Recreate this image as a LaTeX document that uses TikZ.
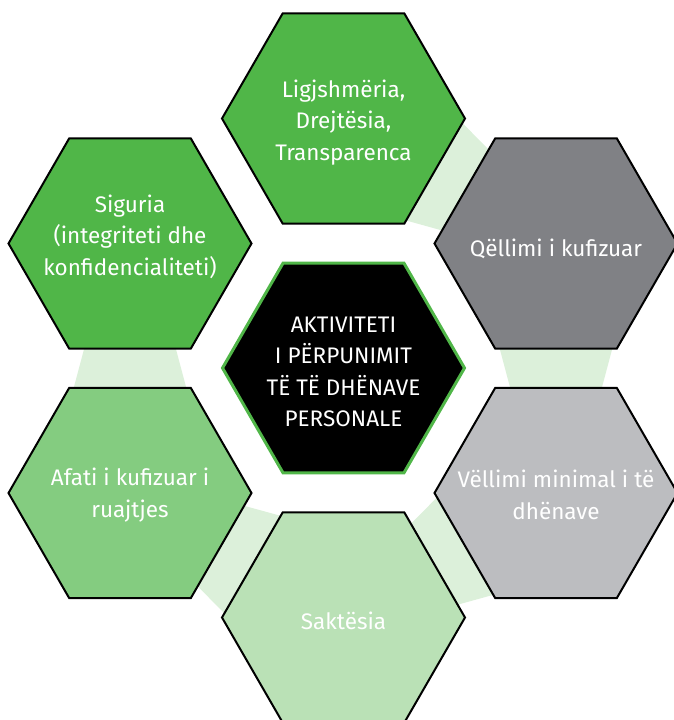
\documentclass[tikz,border=0pt]{standalone}
\usepackage{fontspec}
\setmainfont{Fira Sans}
\usetikzlibrary{shapes.geometric,calc}
\definecolor{hgreen}{RGB}{80,182,72}
\definecolor{hdgray}{RGB}{128,129,133}
\definecolor{hlgray}{RGB}{188,189,192}
\definecolor{hmgreen}{RGB}{132,204,128}
\definecolor{hlgreen}{RGB}{186,225,182}
\definecolor{bandcol}{RGB}{220,240,218}
\newcommand{\hexband}[2]{%
  \path ($(#1.center)!95pt!(#2.center)$) coordinate (ba)
        ($(#1.center)!155pt!(#2.center)$) coordinate (bb);
  \fill[bandcol] ($(ba)!59pt!90:(#2.center)$) -- ($(ba)!59pt!-90:(#2.center)$)
     -- ($(bb)!43pt!-90:(#2.center)$) -- ($(bb)!43pt!90:(#2.center)$) -- cycle;}
\begin{document}
\begin{tikzpicture}[x=1pt,y=-1pt,
  hexa/.style={regular polygon, regular polygon sides=6,
    minimum size=243pt, inner sep=0pt, outer sep=0pt, draw=black, line width=2pt},
  hlabel/.style={text=white, align=center, font=\fontsize{22.5}{31.5}\selectfont, inner sep=0pt}]
\useasboundingbox (0,0) rectangle (673,720);
% coordinates of hexagon centres
\coordinate (ctop) at (343.5,118.5);
\coordinate (ctr) at (556,243.5);
\coordinate (cbr) at (556,493);
\coordinate (cbot) at (343.5,617.5);
\coordinate (cbl) at (130,493);
\coordinate (ctl) at (130,243.5);
\coordinate (cmid) at (343.5,368);
% bands (clockwise)
\hexband{ctop}{ctr}
\hexband{ctr}{cbr}
\hexband{cbr}{cbot}
\hexband{cbot}{cbl}
\hexband{cbl}{ctl}
% hexagons
\node[hexa, fill=hgreen] (top) at (ctop) {};
\node[hexa, fill=hdgray] (tr) at (ctr) {};
\node[hexa, fill=hlgray] (br) at (cbr) {};
\node[hexa, fill=hlgreen] (bot) at (cbot) {};
\node[hexa, fill=hmgreen] (bl) at (cbl) {};
\node[hexa, fill=hgreen] (tl) at (ctl) {};
\node[hexa, fill=black, draw=hgreen, line width=3pt, minimum size=242pt] (mid) at (cmid) {};
% labels
\node[hlabel] (toptext) at ($(top.center)+(0,4)$) {Ligjshmëria,\\Drejtësia,\\Transparenca};
\node[hlabel] (trtext) at ($(tr.center)+(0,5)$) {Qëllimi i kufizuar};
\node[hlabel] (brtext) at ($(br.center)+(0,2)$) {Vëllimi minimal i të\\dhënave};
\node[hlabel] (bottext) at ($(bot.center)+(0,3)$) {Saktësia};
\node[hlabel] (bltext) at ($(bl.center)+(0,2)$) {Afati i kufizuar i\\ruajtjes};
\node[hlabel] (tltext) at ($(tl.center)+(0,-7)$) {Siguria\\(integriteti dhe\\konfidencialiteti)};
\node[hlabel] (midtext) at ($(mid.center)+(0,4)$) {AKTIVITETI\\I PËRPUNIMIT\\TË TË DHËNAVE\\PERSONALE};
\end{tikzpicture}
\end{document}
